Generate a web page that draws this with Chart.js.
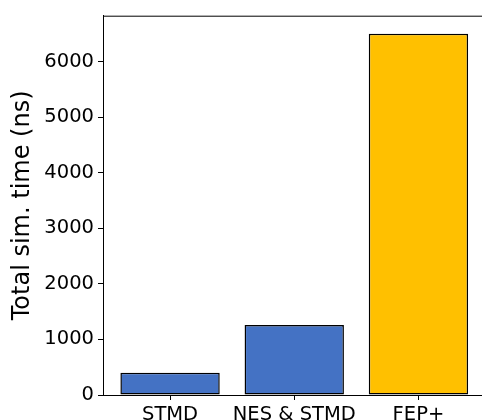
<!DOCTYPE html>
<html>
<head>
<meta charset="utf-8">
<script src="https://cdn.jsdelivr.net/npm/chart.js@4/dist/chart.umd.min.js"></script>
<style>
  html, body { margin: 0; padding: 0; background: #fff; overflow: hidden; }
  #wrap { width: 482px; height: 420px; overflow: hidden; position: relative; }
  canvas { position: absolute; left: 0; top: 0; }
</style>
</head>
<body>
<div id="wrap"><canvas id="chart" width="490" height="440"></canvas></div>
<script>
        const categories = ['STMD', 'NES & STMD', 'FEP+'];
        const simTimes = [400, 1260, 6500];
        const barColors = ['#4472C4', '#4472C4', '#FFC000'];
        const yTicks = [0, 1000, 2000, 3000, 4000, 5000, 6000];

        // top spine (right spine falls outside the picture)
        const topSpine = {
            id: 'topSpine',
            afterDraw(chart) {
                const a = chart.chartArea;
                const ctx = chart.ctx;
                ctx.save();
                ctx.strokeStyle = '#000';
                ctx.lineWidth = 1;
                ctx.beginPath();
                ctx.moveTo(a.left, a.top + 0.5);
                ctx.lineTo(a.right, a.top + 0.5);
                ctx.stroke();
                ctx.restore();
            }
        };

        const ctx = document.getElementById('chart').getContext('2d');

        new Chart(ctx, {
            type: 'bar',
            data: {
                datasets: [{
                    data: simTimes.map((v, i) => ({ x: i, y: v })),
                    backgroundColor: barColors,
                    borderColor: '#000',
                    borderWidth: 1.5,
                    borderSkipped: false,
                    barPercentage: 0.8,
                    categoryPercentage: 1.0
                }]
            },
            options: {
                responsive: false,
                animation: false,
                layout: { padding: { left: 0, top: 15, right: 4.5, bottom: 0 } },
                plugins: {
                    legend: { display: false },
                    tooltip: { enabled: false }
                },
                scales: {
                    x: {
                        type: 'linear',
                        min: -0.54,
                        max: 2.54,
                        offset: false,
                        afterBuildTicks: scale => {
                            scale.ticks = categories.map((c, i) => ({ value: i }));
                        },
                        afterFit: scale => { scale.height = 45; },
                        ticks: {
                            callback: v => categories[v],
                            font: { family: 'DejaVu Sans', size: 19.5 },
                            color: '#000',
                            padding: 3,
                            maxRotation: 0,
                            autoSkip: false
                        },
                        grid: {
                            offset: false,
                            drawOnChartArea: false,
                            tickLength: 5,
                            tickColor: '#000'
                        },
                        border: { color: '#000', width: 1 }
                    },
                    y: {
                        min: 0,
                        max: 6825,
                        afterBuildTicks: scale => {
                            scale.ticks = yTicks.map(v => ({ value: v }));
                        },
                        afterFit: scale => { scale.width = 103; },
                        ticks: {
                            callback: v => String(v),
                            font: { family: 'DejaVu Sans', size: 19.5 },
                            color: '#000',
                            padding: 4
                        },
                        grid: {
                            drawOnChartArea: false,
                            tickLength: 5,
                            tickColor: '#000'
                        },
                        border: { color: '#000', width: 1 },
                        title: {
                            display: true,
                            text: 'Total sim. time (ns)',
                            font: { family: 'DejaVu Sans', size: 24 },
                            color: '#000',
                            padding: { top: 8, bottom: 0 }
                        }
                    }
                }
            },
            plugins: [topSpine]
        });
</script>
</body>
</html>
